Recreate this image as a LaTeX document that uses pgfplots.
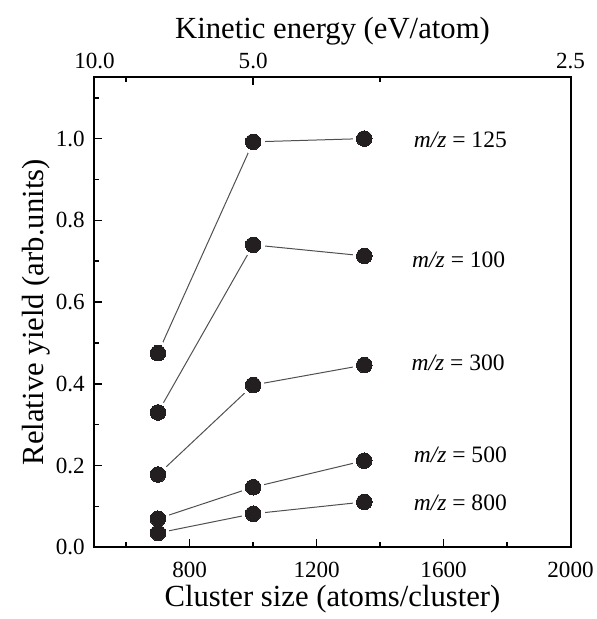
\documentclass[border=0pt]{standalone}
\usepackage{pgfplots}
\usepackage{pgfplotstable}
\pgfplotsset{compat=1.18}
\usepackage{fontspec}
\setmainfont{Liberation Serif}
\definecolor{dot}{HTML}{231F20}
\definecolor{ln}{HTML}{505050}

\pgfplotstableread{
x a b c d e
700 0.475 0.330 0.178 0.070 0.035
1000 0.992 0.740 0.397 0.147 0.082
1350 1.000 0.713 0.446 0.212 0.111
}\data

\begin{document}
\begin{tikzpicture}
\begin{axis}[name=ax, at={(0,0)}, anchor=south west, scale only axis,
  width=238bp, height=235bp,
  xmin=500, xmax=2000, ymin=0, ymax=1.15,
  xtick={800,1200,1600,2000}, minor xtick={600,1000,1400,1800},
  ytick={0,0.2,0.4,0.6,0.8,1.0}, minor ytick={0.1,0.3,0.5,0.7,0.9,1.1},
  xtick pos=left, ytick pos=left, tick align=inside,
  major tick length=4bp, minor tick length=2.5bp,
  every tick/.style={line width=0.8bp, black},
  axis line style={line width=1bp, black},
  /pgf/number format/assume math mode=true,
  /pgf/number format/1000 sep={},
  yticklabel style={/pgf/number format/fixed, /pgf/number format/fixed zerofill, /pgf/number format/precision=1, anchor=east, inner sep=0pt, xshift=-4.7bp},
  xticklabel style={anchor=north, inner sep=0pt, yshift=-7.2bp},
  tick label style={font=\fontsize{11.6}{14}\selectfont},
  label style={font=\fontsize{15.4}{18}\selectfont},
  xlabel={Cluster size (atoms/cluster)},
  ylabel={Relative yield (arb.units)},
  xlabel style={at={(axis description cs:0.5,0)}, anchor=base, yshift=-29.8bp, inner sep=0pt},
  ylabel style={at={(axis description cs:0,0.5)}, anchor=base, yshift=25.5bp, inner sep=0pt},
  clip=false,
]
\addplot[ln, line width=0.5bp, no marks] table[x=x, y=a]{\data};
\addplot[ln, line width=0.5bp, no marks] table[x=x, y=b]{\data};
\addplot[ln, line width=0.5bp, no marks] table[x=x, y=c]{\data};
\addplot[ln, line width=0.5bp, no marks] table[x=x, y=d]{\data};
\addplot[ln, line width=0.5bp, no marks] table[x=x, y=e]{\data};
\addplot[white, only marks, mark=*, mark size=5.6bp, mark options={line width=0pt}] table[x=x, y=a]{\data};
\addplot[white, only marks, mark=*, mark size=5.6bp, mark options={line width=0pt}] table[x=x, y=b]{\data};
\addplot[white, only marks, mark=*, mark size=5.6bp, mark options={line width=0pt}] table[x=x, y=c]{\data};
\addplot[white, only marks, mark=*, mark size=5.6bp, mark options={line width=0pt}] table[x=x, y=d]{\data};
\addplot[white, only marks, mark=*, mark size=5.6bp, mark options={line width=0pt}] table[x=x, y=e]{\data};
\addplot[dot, only marks, mark=*, mark size=3.9bp, mark options={line width=0pt}] table[x=x, y=a]{\data};
\addplot[dot, only marks, mark=*, mark size=3.9bp, mark options={line width=0pt}] table[x=x, y=b]{\data};
\addplot[dot, only marks, mark=*, mark size=3.9bp, mark options={line width=0pt}] table[x=x, y=c]{\data};
\addplot[dot, only marks, mark=*, mark size=3.9bp, mark options={line width=0pt}] table[x=x, y=d]{\data};
\addplot[dot, only marks, mark=*, mark size=3.9bp, mark options={line width=0pt}] table[x=x, y=e]{\data};
\begin{scope}[every node/.style={anchor=west, inner sep=0pt, font=\fontsize{11.8}{14}\selectfont}]
\node at (axis cs:1505,0.998) {\textit{m/z} = 125};
\node at (axis cs:1500,0.704) {\textit{m/z} = 100};
\node at (axis cs:1498,0.451) {\textit{m/z} = 300};
\node at (axis cs:1505,0.226) {\textit{m/z} = 500};
\node at (axis cs:1505,0.108) {\textit{m/z} = 800};
\end{scope}
\end{axis}
\begin{axis}[at={(0,0)}, anchor=south west, scale only axis,
  width=238bp, height=235bp,
  xmin=500, xmax=2000, ymin=0, ymax=1.15,
  axis x line*=top, axis y line=none,
  axis line style={draw=none},
  xtick={500,1000,2000}, xticklabels={10.0,5.0,2.5},
  minor xtick={600,1400},
  tick align=inside,
  major tick length=4bp, minor tick length=2.5bp,
  every tick/.style={line width=0.8bp, black},
  xticklabel style={anchor=south, inner sep=0pt, yshift=4bp, font=\fontsize{11.6}{14}\selectfont},
  xlabel={Kinetic energy (eV/atom)},
  xlabel style={at={(axis description cs:0.5,1)}, anchor=base, yshift=19.2bp, inner sep=0pt, font=\fontsize{15.4}{18}\selectfont},
]
\addplot[draw=none, no marks] coordinates {(500,0) (2000,0)};
\end{axis}
\pgfresetboundingbox
\path (-47.25bp,-35.85bp) rectangle (251.25bp,273.65bp);
\end{tikzpicture}
\end{document}
